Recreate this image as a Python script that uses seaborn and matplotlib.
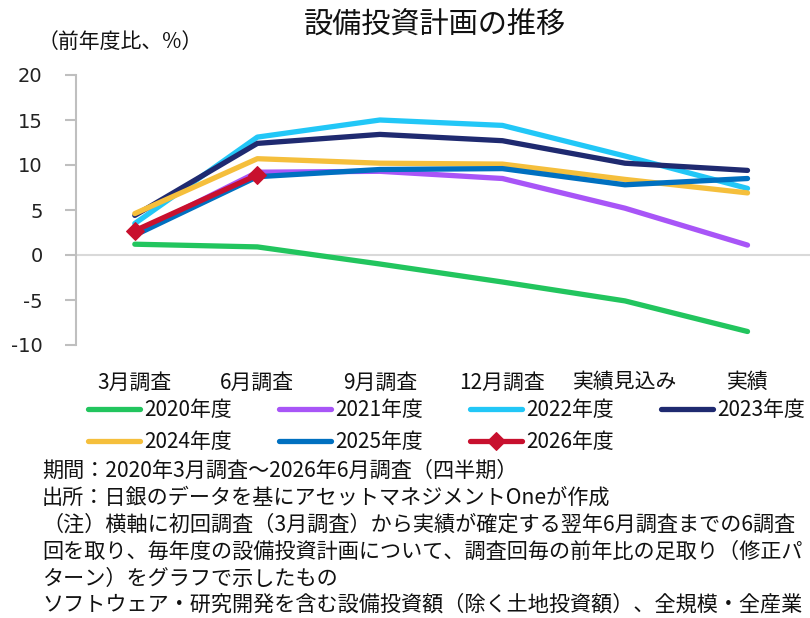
import matplotlib
matplotlib.use('Agg')
import matplotlib.pyplot as plt
import pandas as pd
import seaborn as sns

# ---- data ----
categories = ['3月調査', '6月調査', '9月調査', '12月調査', '実績見込み', '実績']
fy2020 = [1.2, 0.9, -1.0, -3.0, -5.1, -8.5]
fy2021 = [2.4, 9.2, 9.3, 8.5, 5.2, 1.1]
fy2022 = [3.5, 13.1, 15.0, 14.4, 11.0, 7.4]
fy2023 = [4.4, 12.4, 13.4, 12.7, 10.2, 9.4]
fy2024 = [4.6, 10.7, 10.2, 10.1, 8.4, 6.9]
fy2025 = [2.2, 8.7, 9.5, 9.6, 7.8, 8.5]
fy2026 = [2.7, 8.9]
series_labels = ['2020年度', '2021年度', '2022年度', '2023年度', '2024年度', '2025年度', '2026年度']
y_ticks = [-10, -5, 0, 5, 10, 15, 20]

title = '設備投資計画の推移'
unit_label = '（前年度比、%）'
notes = [
    '期間：2020年3月調査～2026年6月調査（四半期）',
    '出所：日銀のデータを基にアセットマネジメントOneが作成',
    '（注）横軸に初回調査（3月調査）から実績が確定する翌年6月調査までの6調査',
    '回を取り、毎年度の設備投資計画について、調査回毎の前年比の足取り（修正パ',
    'ターン）をグラフで示したもの',
    'ソフトウェア・研究開発を含む設備投資額（除く土地投資額）、全規模・全産業',
]

colors = ['#22C55E', '#A855F7', '#22C7F7', '#1F2A70', '#F5BF3C', '#0070C0', '#C8102E']

sns.set_theme(style='white')
plt.rcParams['font.family'] = ['Noto Sans CJK JP', 'DejaVu Sans']

fig = plt.figure(figsize=(8.1, 6.18), dpi=100)
ax = fig.add_axes([76 / 810, 1 - 345 / 618, 1 - 76 / 810, 270 / 618])

all_series = [fy2020, fy2021, fy2022, fy2023, fy2024, fy2025, fy2026]
for vals, lab, col in zip(all_series, series_labels, colors):
    df = pd.DataFrame({'pos': list(range(len(vals))), 'val': vals})
    kw = {}
    if lab == '2026年度':
        kw = dict(marker='D', markersize=9, markeredgecolor=col, markerfacecolor=col)
    sns.lineplot(data=df, x='pos', y='val', ax=ax, color=col, linewidth=3.8,
                 label=lab, solid_capstyle='round', sort=False, **kw)

ax.axhline(0, color='#D9D9D9', linewidth=1.5, zorder=0)

ax.set_xlim(-0.48, 5.51)
ax.set_ylim(-10, 20)
ax.set_yticks(y_ticks)
ax.set_yticklabels([str(v) for v in y_ticks], fontfamily='DejaVu Sans', fontsize=14, color='#222222')
ax.set_xticks(range(len(categories)))
ax.set_xticklabels(categories, fontsize=15, color='#111111')
ax.set_xlabel('')
ax.set_ylabel('')

for s in ['top', 'right', 'bottom']:
    ax.spines[s].set_visible(False)
ax.spines['left'].set_color('#BFBFBF')
ax.spines['left'].set_linewidth(1.5)
ax.tick_params(axis='y', which='both', left=True, length=8, width=1.5, color='#BFBFBF', pad=16)
ax.tick_params(axis='x', length=0, pad=19)

handles, labels = ax.get_legend_handles_labels()
ax.get_legend().remove()
# reorder so that legend fills row by row (4 columns)
order = [0, 4, 1, 5, 2, 6, 3]
handles = [handles[i] for i in order]
labels = [labels[i] for i in order]
leg = fig.legend(handles, labels, ncol=4, loc='upper left',
                 bbox_to_anchor=(88 / 810, 1 - 399 / 618), frameon=False,
                 fontsize=15, handlelength=2.5, handletextpad=0.2,
                 columnspacing=2.25, labelspacing=0.5, borderpad=0, borderaxespad=0,
                 numpoints=1)
for t in leg.get_texts():
    t.set_color('#111111')

fig.text(435 / 810, 1 - 26 / 618, title, ha='center', va='center', fontsize=21, color='#111111')
fig.text(38 / 810, 1 - 42 / 618, unit_label, ha='left', va='center', fontsize=15, color='#111111')

ys = [471, 498, 525, 552, 579, 605]
for line, yy in zip(notes, ys):
    fig.text(42 / 810, 1 - yy / 618, line, ha='left', va='center', fontsize=15.2, color='#111111')

fig.savefig('out.png', dpi=100)
